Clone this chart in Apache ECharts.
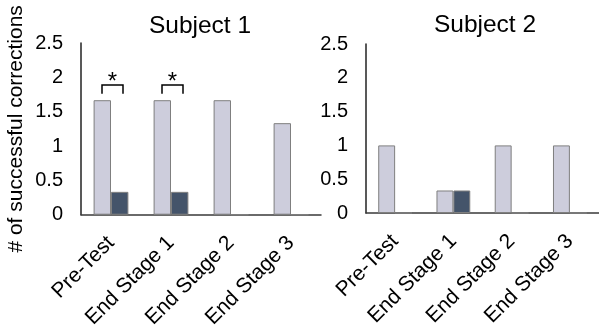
<!DOCTYPE html>
<html><head><meta charset="utf-8">
<script src="https://cdn.jsdelivr.net/npm/echarts@6/dist/echarts.min.js"></script>
<style>html,body{margin:0;padding:0;background:#fff}#c{width:599px;height:331px}</style>
</head><body><div id="c"></div>
<script>
var categories = ['Pre-Test', 'End Stage 1', 'End Stage 2', 'End Stage 3'];
var titles = ['Subject 1', 'Subject 2'];
var s1Light = [1.667, 1.667, 1.667, 1.333];
var s1Dark = [0.333, 0.333, 0, 0];
var s2Light = [1, 0.333, 1, 1];
var s2Dark = [0, 0.333, 0, 0];
var yTicks = [0, 0.5, 1, 1.5, 2, 2.5];
var sigCats = [0, 1];       // category indexes with a bracket in Subject 1
var sigTop = 1.89, sigLeg = 1.76, sigStar = 2.02;
var yName = '# of successful corrections';

var FONT = 'Arial, "Liberation Sans", sans-serif';
var LIGHT = '#cdcddc', DARK = '#44546a', EDGE = '#7f7f7f';
var chart = echarts.init(document.getElementById('c'));

function xAx(i) {
  return {
    type: 'category', gridIndex: i, data: categories,
    axisLine: {lineStyle: {color: '#3a3a3a', width: 1.5}},
    axisTick: {show: false},
    axisLabel: {rotate: 45, fontSize: 21, color: '#000', fontFamily: FONT, margin: 25, interval: 0}
  };
}
function yAx(i) {
  var o = {
    type: 'value', gridIndex: i, min: 0, max: 2.5, interval: 0.5,
    axisLine: {show: true, lineStyle: {color: '#222', width: 1.5}},
    axisTick: {show: false}, splitLine: {show: false},
    axisLabel: {fontSize: 20, color: '#000', fontFamily: FONT, margin: 18,
      formatter: function (v) { return yTicks.indexOf(v) >= 0 ? String(v) : ''; }}
  };
  if (i === 0) {
    o.name = yName; o.nameLocation = 'middle'; o.nameGap = 54; o.nameRotate = 90;
    o.nameTextStyle = {fontSize: 21, color: '#000', fontFamily: FONT};
  }
  return o;
}
function bar(i, data, color) {
  return {
    type: 'bar', xAxisIndex: i, yAxisIndex: i, data: data,
    barGap: '0%', barCategoryGap: '42%',
    itemStyle: {color: color, borderColor: EDGE, borderWidth: 1},
    silent: true
  };
}

chart.setOption({
  animation: false,
  title: [
    {text: titles[0], left: 195, top: 9, textAlign: 'center',
     textStyle: {fontSize: 24.5, fontWeight: 'normal', color: '#000', fontFamily: FONT}},
    {text: titles[1], left: 480, top: 8, textAlign: 'center',
     textStyle: {fontSize: 24.5, fontWeight: 'normal', color: '#000', fontFamily: FONT}}
  ],
  grid: [
    {left: 81, top: 43, width: 240, height: 173},
    {left: 366, top: 44, width: 240, height: 169}
  ],
  xAxis: [xAx(0), xAx(1)],
  yAxis: [yAx(0), yAx(1)],
  series: [
    bar(0, s1Light, LIGHT), bar(0, s1Dark, DARK),
    bar(1, s2Light, LIGHT), bar(1, s2Dark, DARK),
    {
      type: 'custom', xAxisIndex: 0, yAxisIndex: 0, silent: true, z: 5,
      data: sigCats.map(function (c) { return [c, sigTop, sigLeg, sigStar]; }),
      renderItem: function (params, api) {
        var idx = api.value(0);
        var top = api.coord([idx, api.value(1)]);
        var leg = api.coord([idx, api.value(2)]);
        var star = api.coord([idx, api.value(3)]);
        var bw = api.size([1, 0])[0];
        var x1 = top[0] - bw * 0.15, x2 = top[0] + bw * 0.2;
        return {type: 'group', children: [
          {type: 'polyline', shape: {points: [[x1, leg[1]], [x1, top[1]], [x2, top[1]], [x2, leg[1]]]},
           style: {stroke: '#000', lineWidth: 1.5, fill: null}},
          {type: 'text', style: {text: '*', x: (x1 + x2) / 2, y: star[1] + 6, textAlign: 'center',
           textVerticalAlign: 'middle', fontSize: 24, fontFamily: FONT, fill: '#000'}}
        ]};
      }
    }
  ]
});
</script></body></html>
